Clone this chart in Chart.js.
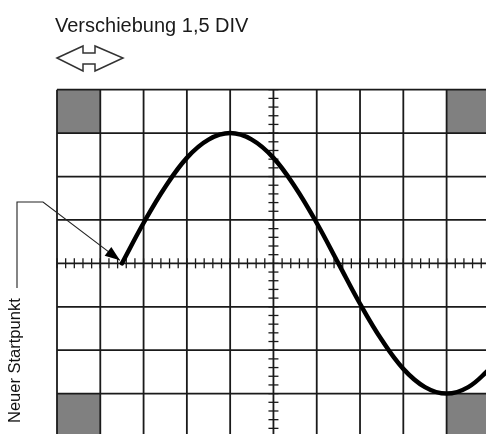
<!DOCTYPE html>
<html>
<head>
<meta charset="utf-8">
<script src="https://cdn.jsdelivr.net/npm/chart.js@4/dist/chart.umd.min.js"></script>
<style>
  html, body { margin: 0; padding: 0; background: #fff; }
  #wrap { position: relative; width: 486px; height: 434px; overflow: hidden; }
  #scope { position: absolute; left: 0; top: 0; }
  .titel {
    position: absolute; left: 55px; top: 15px;
    font-family: "Liberation Sans", Arial, sans-serif; font-size: 20px; line-height: 20px;
    color: #1a1a1a; white-space: nowrap;
  }
  .startpunkt {
    position: absolute; left: 0; top: 0;
    font-family: "Liberation Sans", Arial, sans-serif; font-size: 16.5px; line-height: 16.5px;
    color: #111; white-space: nowrap;
    transform-origin: 0 0; transform: translate(6px, 423px) rotate(-90deg);
  }
</style>
</head>
<body>
<div id="wrap">
  <canvas id="scope" width="486" height="434"></canvas>
  <div class="titel">Verschiebung 1,5 DIV</div>
  <div class="startpunkt">Neuer Startpunkt</div>
</div>
<script>
document.addEventListener("DOMContentLoaded", function () {

    // Signal in DIV
    const divX    = [1.5, 2, 2.5, 3, 3.5, 4, 4.5, 5, 5.5, 6, 6.5, 7, 7.5, 8, 8.5, 9, 9.5, 10];
    const signalY = [0, 0.93, 1.76, 2.43, 2.85, 3.0, 2.85, 2.43, 1.76, 0.93, 0, -0.93, -1.76, -2.43, -2.85, -3.0, -2.85, -2.43];

    // Raster: 10 x 8 DIV, Mitte bei x=5 / y=0
    const rasterX = [0, 1, 2, 3, 4, 5, 6, 7, 8, 9, 10];
    const rasterY = [-4, -3, -2, -1, 0, 1, 2, 3, 4];
    const grauFelder = [[0, 3], [9, 3], [0, -4], [9, -4]]; // linke untere Ecke
    const startPunkt = { x: 1.5, y: 0 };

    const punkte = divX.map((x, i) => ({ x: x, y: signalY[i] }));

    // Raster, graue Ecken, Teilstriche
    const rasterPlugin = {
        id: 'raster',
        beforeDatasetsDraw(chart) {
            const ctx = chart.ctx;
            const sx = chart.scales.x, sy = chart.scales.y;
            const px = v => sx.getPixelForValue(v);
            const py = v => sy.getPixelForValue(v);
            ctx.save();

            ctx.fillStyle = '#808080';
            grauFelder.forEach(f => {
                ctx.fillRect(px(f[0]), py(f[1] + 1), px(f[0] + 1) - px(f[0]), py(f[1]) - py(f[1] + 1));
            });

            ctx.strokeStyle = '#1a1a1a';
            ctx.lineWidth = 1.8;
            rasterX.forEach(v => {
                ctx.beginPath();
                ctx.moveTo(px(v), py(4));
                ctx.lineTo(px(v), py(-4));
                ctx.stroke();
            });
            rasterY.forEach(v => {
                ctx.beginPath();
                ctx.moveTo(px(0), py(v));
                ctx.lineTo(px(10), py(v));
                ctx.stroke();
            });

            // Teilstriche auf den Mittelachsen
            ctx.lineWidth = 1.3;
            for (let i = 0; i <= 50; i++) {
                const x = px(i * 0.2);
                ctx.beginPath();
                ctx.moveTo(x, py(0) - 5);
                ctx.lineTo(x, py(0) + 5);
                ctx.stroke();
            }
            for (let i = 0; i <= 40; i++) {
                const y = py(-4 + i * 0.2);
                ctx.beginPath();
                ctx.moveTo(px(5) - 5, y);
                ctx.lineTo(px(5) + 5, y);
                ctx.stroke();
            }
            ctx.restore();
        },
        afterDraw(chart) {
            const ctx = chart.ctx;
            const sx = chart.scales.x, sy = chart.scales.y;
            ctx.save();

            // Hinweislinie mit Pfeil zum Startpunkt
            const tx = sx.getPixelForValue(startPunkt.x) - 2;
            const ty = sy.getPixelForValue(startPunkt.y) - 3;
            ctx.strokeStyle = '#222';
            ctx.lineWidth = 1.1;
            ctx.beginPath();
            ctx.moveTo(17, 288);
            ctx.lineTo(17, 202);
            ctx.lineTo(43, 202);
            ctx.lineTo(tx, ty);
            ctx.stroke();
            const ang = Math.atan2(ty - 202, tx - 43);
            const len = 15, halb = 5.5;
            ctx.fillStyle = '#000';
            ctx.beginPath();
            ctx.moveTo(tx, ty);
            ctx.lineTo(tx - len * Math.cos(ang) + halb * Math.sin(ang), ty - len * Math.sin(ang) - halb * Math.cos(ang));
            ctx.lineTo(tx - len * Math.cos(ang) - halb * Math.sin(ang), ty - len * Math.sin(ang) + halb * Math.cos(ang));
            ctx.closePath();
            ctx.fill();

            // Doppelpfeil unter der Überschrift
            ctx.strokeStyle = '#333';
            ctx.lineWidth = 1.5;
            ctx.beginPath();
            ctx.moveTo(57, 58);
            ctx.lineTo(83, 46);
            ctx.lineTo(83, 53);
            ctx.lineTo(95, 53);
            ctx.lineTo(95, 46);
            ctx.lineTo(123, 58);
            ctx.lineTo(95, 71);
            ctx.lineTo(95, 64);
            ctx.lineTo(83, 64);
            ctx.lineTo(83, 71);
            ctx.closePath();
            ctx.stroke();
            ctx.restore();
        }
    };

    new Chart(document.getElementById('scope').getContext('2d'), {
        type: 'line',
        data: {
            datasets: [{
                data: punkte,
                borderColor: '#000',
                borderWidth: 4.5,
                pointRadius: 0,
                fill: false,
                tension: 0.4,
                borderCapStyle: 'round'
            }]
        },
        options: {
            responsive: false,
            animation: false,
            events: [],
            layout: { padding: { left: 57, top: 91, right: 0, bottom: 0 } },
            plugins: { legend: { display: false }, tooltip: { enabled: false } },
            scales: {
                x: { type: 'linear', min: 0, max: 9.91, display: false },
                y: { min: -3.93, max: 3.97, display: false }
            }
        },
        plugins: [rasterPlugin]
    });
});
</script>
</body>
</html>
